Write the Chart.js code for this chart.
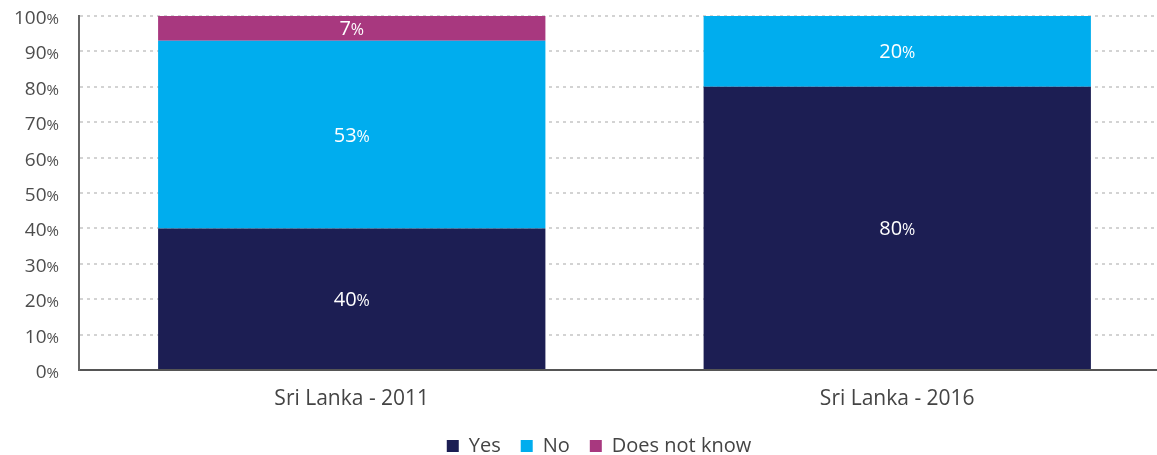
<!DOCTYPE html>
<html>
<head>
<meta charset="utf-8">
<script src="https://cdn.jsdelivr.net/npm/chart.js@4.4.1/dist/chart.umd.min.js"></script>
<style>
  html, body { margin: 0; padding: 0; background: #fff; overflow: hidden; }
  #wrap { position: relative; width: 1170px; height: 466px; }
</style>
</head>
<body>
<div id="wrap"><canvas id="chart"></canvas></div>
<script>
const categories = ["Sri Lanka - 2011", "Sri Lanka - 2016"];
const yesValues = [40, 80];
const noValues = [53, 20];
const unsureValues = [7, 0];
const seriesNames = ["Yes", "No", "Does not know"];
const seriesColors = ["#1c1e53", "#00adee", "#a8387f"];
const yMin = 0, yMax = 100, yStep = 10;

const FONT = "'Open Sans', sans-serif";

// number in the normal size, "%" a bit smaller, drawn as one unit
function drawPercent(ctx, value, x, y, bigSize, smallSize, align) {
  const num = String(value);
  ctx.font = bigSize + "px " + FONT;
  const wNum = ctx.measureText(num).width;
  ctx.font = smallSize + "px " + FONT;
  const wPct = ctx.measureText("%").width;
  let left = align === "right" ? x - wNum - wPct : x - (wNum + wPct) / 2;
  ctx.textAlign = "left";
  ctx.textBaseline = "alphabetic";
  ctx.font = bigSize + "px " + FONT;
  ctx.fillText(num, left, y);
  ctx.font = smallSize + "px " + FONT;
  ctx.fillText("%", left + wNum, y);
}

const percentLabels = {
  id: "percentLabels",
  afterDatasetsDraw(chart) {
    const ctx = chart.ctx;
    ctx.save();
    // y axis ticks
    const yScale = chart.scales.y;
    ctx.fillStyle = "#4d4d4d";
    yScale.ticks.forEach(t => {
      const py = yScale.getPixelForValue(t.value);
      drawPercent(ctx, t.value, 59, py + 8, 19, 15, "right");
    });
    // values inside the bar segments
    ctx.fillStyle = "#ffffff";
    chart.data.datasets.forEach((ds, i) => {
      const meta = chart.getDatasetMeta(i);
      meta.data.forEach((bar, j) => {
        const v = ds.data[j];
        if (!v) return;
        const cy = (bar.y + bar.base) / 2;
        drawPercent(ctx, v, bar.x, cy + 7, 20, 16, "center");
      });
    });
    ctx.restore();
  }
};

// shifts the legend a little to the right of the canvas centre
const legendShift = {
  id: "legendShift",
  afterLayout(chart) {
    if (!chart.legend) return;
    chart.legend.left += 14;
    chart.legend.right += 14;
  }
};

new Chart(document.getElementById("chart"), {
  type: "bar",
  data: {
    labels: categories,
    datasets: [
      { label: seriesNames[0], data: yesValues, backgroundColor: seriesColors[0] },
      { label: seriesNames[1], data: noValues, backgroundColor: seriesColors[1] },
      { label: seriesNames[2], data: unsureValues, backgroundColor: seriesColors[2] }
    ]
  },
  options: {
    responsive: true,
    maintainAspectRatio: false,
    animation: false,
    datasets: { bar: { categoryPercentage: 1, barPercentage: 0.71, borderWidth: 0 } },
    layout: { padding: { top: 16, left: 0, right: 0, bottom: 0 } },
    plugins: {
      tooltip: { enabled: false },
      legend: {
        position: "bottom",
        labels: {
          boxWidth: 12,
          boxHeight: 12,
          padding: 20,
          color: "#444",
          font: { family: FONT, size: 20 }
        }
      }
    },
    scales: {
      x: {
        stacked: true,
        grid: { display: false },
        border: { display: true, color: "#555", width: 2 },
        ticks: { color: "#444", padding: 8, font: { family: FONT, size: 21 } },
        afterFit(scale) { scale.height = 46; }
      },
      y: {
        stacked: true,
        min: yMin,
        max: yMax,
        ticks: { stepSize: yStep, display: false },
        grid: { color: "#d3d3d3", lineWidth: 2, drawTicks: false },
        border: { display: true, color: "#666", width: 2, dash: [3, 4] },
        afterFit(scale) { scale.width = 79; }
      }
    }
  },
  plugins: [percentLabels, legendShift]
});
</script>
</body>
</html>
